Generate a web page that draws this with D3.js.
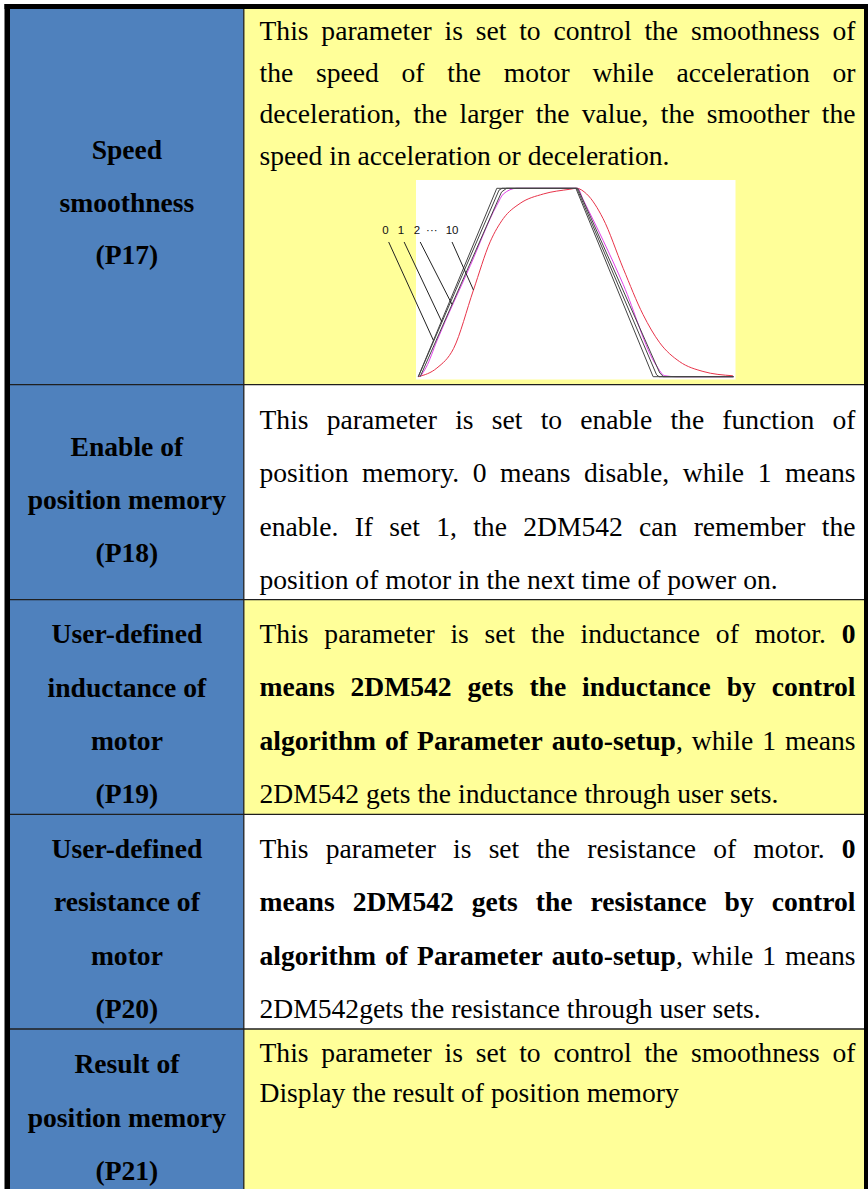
<!DOCTYPE html>
<html>
<head>
<meta charset="utf-8">
<script src="https://cdn.jsdelivr.net/npm/d3@7"></script>
<style>
  body { margin: 0; background: #fff; }
  svg { display: block; }
</style>
</head>
<body>
<svg id="sheet" width="868" height="1189"></svg>
<script>
// ---- table content ----
const paramNames = [
  ["Speed", "smoothness", "(P17)"],
  ["Enable of", "position memory", "(P18)"],
  ["User-defined", "inductance of", "motor", "(P19)"],
  ["User-defined", "resistance of", "motor", "(P20)"],
  ["Result of", "position memory", "(P21)"]
];

// a "*" switches bold on / off
const paramText = [
  ["This parameter is set to control the smoothness of",
   "the speed of the motor while acceleration or",
   "deceleration, the larger the value, the smoother the",
   "speed in acceleration or deceleration."],
  ["This parameter is set to enable the function of",
   "position memory. 0 means disable, while 1 means",
   "enable. If set 1, the 2DM542 can remember the",
   "position of motor in the next time of power on."],
  ["This parameter is set the inductance of motor. *0",
   "means 2DM542 gets the inductance by control",
   "algorithm of Parameter auto-setup*, while 1 means",
   "2DM542 gets the inductance through user sets."],
  ["This parameter is set the resistance of motor. *0",
   "means 2DM542 gets the resistance by control",
   "algorithm of Parameter auto-setup*, while 1 means",
   "2DM542gets the resistance through user sets."],
  ["This parameter is set to control the smoothness of",
   "Display the result of position memory"]
];

// ---- speed curve sketch (time 0..100, speed 0..1) ----
const smoothLabels = ["0", "1", "2", "···", "10"];
const speed0 = [[0, 0], [24.9, 1], [50, 1], [74.5, 0], [100, 0]];
const speed1 = [[0, 0], [25.6, 0.99], [26.6, 1], [50.3, 1], [75.6, 0.01], [76.4, 0], [100, 0]];
const speed2 = [[0.6, 0], [26.4, 0.98], [28, 1], [50.6, 1], [76.6, 0.02], [77.8, 0], [100, 0]];
const speedMid = [[0.6, 0], [2.5, 0.05], [5.9, 0.19], [16.5, 0.59], [24.9, 0.91], [27, 0.97],
  [31.2, 1], [50.5, 1], [52.3, 0.94], [65, 0.49], [75.5, 0.06], [78.2, 0.005], [82, 0], [100, 0]];
const speed10 = [[0, 0], [5.9, 0.046], [11.2, 0.15], [17.5, 0.46], [22.8, 0.716], [27, 0.84],
  [32.3, 0.92], [39.7, 0.97], [48.1, 0.995], [50.2, 1], [53.4, 0.97], [58.6, 0.84], [65, 0.575],
  [71.3, 0.33], [76.6, 0.18], [82.9, 0.08], [90.3, 0.028], [99.8, 0.005]];
// where each label's leader line touches its curve (time)
const leaderTimes = [4.8, 7.5, 10.7, null, 17.5];

// ---- layout ----
const serif = "'Liberation Serif', 'Times New Roman', serif";
const fontSize = 27.6;
const rowEdges = [9, 384.7, 599.6, 814.3, 1029, 1200];
const leftX = [10, 243.8];
const rightX = [243.8, 864];
const textX = [259.5, 855.5];
const rightFill = ["#ffff99", "#ffffff", "#ffff99", "#ffffff", "#ffff99"];
const rightFirst = [31, 44.3, 43.4, 43.7, 32.7];
const rightGap = [41.7, 53.3, 53.3, 53.3, 40];
const leftFirst = [150.3, 71.3, 43.7, 43.7, 44];
const leftGap = [52.4, 53, 53.3, 53.3, 53.5];

const svg = d3.select("#sheet");

// cells
const rows = svg.append("g").selectAll("g")
  .data(paramNames.map((d, i) => i))
  .join("g");

rows.append("rect")
  .attr("x", leftX[0])
  .attr("y", i => rowEdges[i])
  .attr("width", leftX[1] - leftX[0])
  .attr("height", i => rowEdges[i + 1] - rowEdges[i])
  .attr("fill", "#4f81bd");

rows.append("rect")
  .attr("x", rightX[0])
  .attr("y", i => rowEdges[i])
  .attr("width", rightX[1] - rightX[0])
  .attr("height", i => rowEdges[i + 1] - rowEdges[i])
  .attr("fill", i => rightFill[i]);

// grid lines
svg.append("g").selectAll("line")
  .data(rowEdges.slice(1, -1))
  .join("line")
  .attr("x1", leftX[0]).attr("x2", rightX[1])
  .attr("y1", d => d).attr("y2", d => d)
  .attr("stroke", "#1f1f1f").attr("stroke-width", 1.3);

svg.append("line")
  .attr("x1", leftX[1]).attr("x2", leftX[1])
  .attr("y1", rowEdges[0]).attr("y2", rowEdges[rowEdges.length - 1])
  .attr("stroke", "#1f1f1f").attr("stroke-width", 1.3);

// outer frame
svg.append("rect").attr("x", 4.5).attr("y", 4).attr("width", 5.5).attr("height", 1189).attr("fill", "#000");
svg.append("rect").attr("x", 4.5).attr("y", 4).attr("width", 864).attr("height", 5).attr("fill", "#000");
svg.append("rect").attr("x", 864).attr("y", 4).attr("width", 4).attr("height", 1189).attr("fill", "#000");

// left column labels
rows.each(function(i) {
  d3.select(this).append("g").selectAll("text")
    .data(paramNames[i])
    .join("text")
    .attr("x", (leftX[0] + leftX[1]) / 2)
    .attr("y", (d, j) => rowEdges[i] + leftFirst[i] + j * leftGap[i])
    .attr("text-anchor", "middle")
    .attr("font-family", serif)
    .attr("font-size", fontSize)
    .attr("font-weight", "bold")
    .attr("fill", "#000")
    .text(d => d);
});

// justified description text
const measure = svg.append("text")
  .attr("font-family", serif)
  .attr("font-size", fontSize)
  .attr("visibility", "hidden");

function wordWidth(pieces) {
  measure.selectAll("tspan").remove();
  pieces.forEach(p => measure.append("tspan")
    .attr("font-weight", p.bold ? "bold" : "normal")
    .text(p.text));
  return measure.node().getComputedTextLength();
}

function parseLine(str, state) {
  return str.split(" ").map(word => {
    const pieces = [];
    word.split("*").forEach((p, k) => {
      if (k > 0) state.bold = !state.bold;
      if (p) pieces.push({ text: p, bold: state.bold });
    });
    return pieces;
  });
}

const spaceW = fontSize * 0.25;
const boxW = textX[1] - textX[0];

paramText.forEach((lines, i) => {
  const state = { bold: false };
  const g = svg.append("g");
  lines.forEach((line, j) => {
    const words = parseLine(line, state);
    const widths = words.map(wordWidth);
    const total = d3.sum(widths);
    const justify = j < lines.length - 1 && words.length > 1;
    const gap = justify ? (boxW - total) / (words.length - 1) : spaceW;
    let x = textX[0];
    const y = rowEdges[i] + rightFirst[i] + j * rightGap[i];
    words.forEach((pieces, k) => {
      const t = g.append("text")
        .attr("x", x)
        .attr("y", y)
        .attr("font-family", serif)
        .attr("font-size", fontSize)
        .attr("fill", "#000");
      pieces.forEach(p => t.append("tspan")
        .attr("font-weight", p.bold ? "bold" : "normal")
        .text(p.text));
      x += widths[k] + gap;
    });
  });
});
measure.remove();

// ---- speed smoothness sketch ----
const box = { x0: 416, x1: 735.5, y0: 180, y1: 379.5 };
const sketch = svg.append("g");

sketch.append("rect")
  .attr("x", box.x0).attr("y", box.y0)
  .attr("width", box.x1 - box.x0).attr("height", box.y1 - box.y0)
  .attr("fill", "#fff");

const xTime = d3.scaleLinear().domain([0, 100]).range([418.3, 733.5]);
const ySpeed = d3.scaleLinear().domain([0, 1]).range([376.7, 188.3]);

const straight = d3.line().x(d => xTime(d[0])).y(d => ySpeed(d[1]));
const smooth = d3.line().x(d => xTime(d[0])).y(d => ySpeed(d[1])).curve(d3.curveMonotoneX);

const curves = [
  { pts: speed10, line: smooth, color: "#e8344a" },
  { pts: speedMid, line: smooth, color: "#e040e8" },
  { pts: speed2, line: straight, color: "#444" },
  { pts: speed1, line: straight, color: "#444" },
  { pts: speed0, line: straight, color: "#444" }
];

sketch.selectAll("path.speed")
  .data(curves)
  .join("path")
  .attr("class", "speed")
  .attr("d", d => d.line(d.pts))
  .attr("fill", "none")
  .attr("stroke", d => d.color)
  .attr("stroke-width", 1);

// labels and leaders (label positions in time / speed units)
const labelTime = [-10.4, -5.5, -0.4, 4.3, 10.7];
const labelSpeed = 0.755;
const leaderCurves = [speed0, speed1, speed2, null, speed10];

function speedAt(pts, t) {
  for (let k = 1; k < pts.length; k++) {
    if (t <= pts[k][0]) {
      const a = pts[k - 1], b = pts[k];
      return a[1] + (b[1] - a[1]) * (t - a[0]) / (b[0] - a[0]);
    }
  }
  return pts[pts.length - 1][1];
}

sketch.selectAll("text.lvl")
  .data(smoothLabels)
  .join("text")
  .attr("class", "lvl")
  .attr("x", (d, i) => xTime(labelTime[i]))
  .attr("y", ySpeed(labelSpeed))
  .attr("text-anchor", "middle")
  .attr("font-family", "'Liberation Sans', Arial, sans-serif")
  .attr("font-size", 11.5)
  .attr("fill", "#111")
  .text(d => d);

sketch.selectAll("line.leader")
  .data(smoothLabels.map((d, i) => i).filter(i => leaderTimes[i] !== null))
  .join("line")
  .attr("class", "leader")
  .attr("x1", i => xTime(labelTime[i] + (i === 4 ? 0 : 1)))
  .attr("y1", ySpeed(labelSpeed - 0.04))
  .attr("x2", i => xTime(leaderTimes[i]))
  .attr("y2", i => ySpeed(speedAt(leaderCurves[i], leaderTimes[i])))
  .attr("stroke", "#222")
  .attr("stroke-width", 1);
</script>
</body>
</html>
